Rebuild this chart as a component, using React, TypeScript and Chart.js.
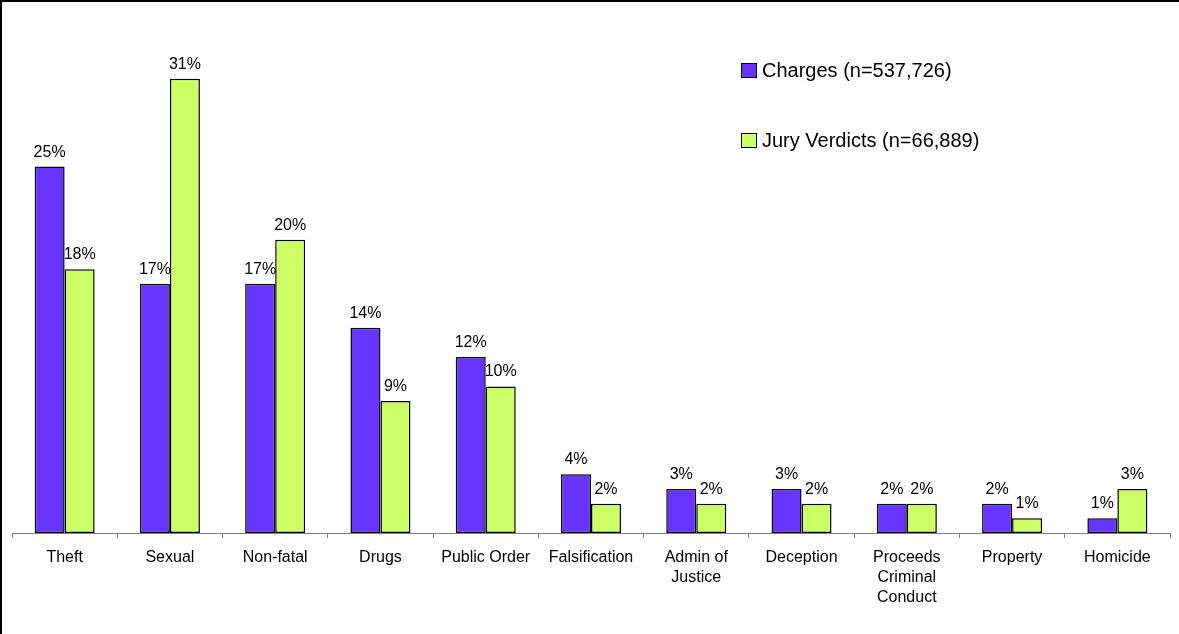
import React, { useEffect, useRef } from "react";
import { Chart, registerables } from "chart.js";

Chart.register(...registerables);

const categories: (string | string[])[] = [
  "Theft",
  "Sexual",
  "Non-fatal",
  "Drugs",
  "Public Order",
  "Falsification",
  ["Admin of", "Justice"],
  "Deception",
  ["Proceeds", "Criminal", "Conduct"],
  "Property",
  "Homicide",
];
const chargesLabel = "Charges (n=537,726)";
const juryLabel = "Jury Verdicts (n=66,889)";
const charges = [25, 17, 17, 14, 12, 4, 3, 3, 2, 2, 1];
const jury = [18, 31, 20, 9, 10, 2, 2, 2, 2, 1, 3];

const FONT = "'Liberation Sans', Arial, sans-serif";

const decorPlugin = {
  id: "decor",
  beforeDraw(chart: any) {
    const ctx = chart.ctx;
    ctx.save();
    ctx.fillStyle = "#ffffff";
    ctx.fillRect(0, 0, chart.width, chart.height);
    ctx.restore();
  },
  afterDatasetsDraw(chart: any) {
    const ctx = chart.ctx;
    ctx.save();
    ctx.font = `16px ${FONT}`;
    ctx.fillStyle = "#000";
    ctx.textAlign = "center";
    ctx.textBaseline = "alphabetic";
    chart.data.datasets.forEach((ds: any, di: number) => {
      const meta = chart.getDatasetMeta(di);
      meta.data.forEach((el: any, i: number) => {
        ctx.fillText(ds.data[i] + "%", el.x, el.y - 10);
      });
    });
    ctx.restore();
  },
  afterDraw(chart: any) {
    const ctx = chart.ctx;
    ctx.save();
    // outer frame (top and left)
    ctx.fillStyle = "#000";
    ctx.fillRect(0, 0, chart.width, 2);
    ctx.fillRect(0, 0, 2, chart.height);
    // legend
    const ys = [63, 133];
    ctx.font = `20px ${FONT}`;
    ctx.textAlign = "left";
    ctx.textBaseline = "middle";
    chart.data.datasets.forEach((ds: any, di: number) => {
      const y = ys[di];
      ctx.fillStyle = ds.backgroundColor;
      ctx.fillRect(741, y, 16, 15);
      ctx.strokeStyle = "#000";
      ctx.lineWidth = 1;
      ctx.strokeRect(741.5, y + 0.5, 15, 14);
      ctx.fillStyle = "#000";
      ctx.fillText(ds.label, 762, y + 8.5);
    });
    ctx.restore();
  },
};

export default function App() {
  const ref = useRef<HTMLCanvasElement | null>(null);
  useEffect(() => {
    document.body.style.margin = "0";
    const canvas = ref.current;
    if (!canvas) return;
    const chart = new Chart(canvas, {
      type: "bar",
      data: {
        labels: categories,
        datasets: [
          {
            label: chargesLabel,
            data: charges,
            backgroundColor: "#6633FF",
            borderColor: "#000000",
            borderWidth: 1.5,
            borderSkipped: false,
          },
          {
            label: juryLabel,
            data: jury,
            backgroundColor: "#CCFF66",
            borderColor: "#000000",
            borderWidth: 1.5,
            borderSkipped: false,
          },
        ],
      },
      options: {
        responsive: false,
        animation: false,
        layout: { padding: { left: 12, right: 9, top: 20, bottom: 0 } },
        datasets: {
          bar: { categoryPercentage: 0.57, barPercentage: 1.0 },
        },
        plugins: {
          legend: { display: false },
          tooltip: { enabled: false },
        },
        scales: {
          x: {
            grid: {
              drawOnChartArea: false,
              drawTicks: true,
              tickLength: 5,
              color: "#808080",
              offset: true,
            },
            border: { display: true, color: "#808080", width: 1 },
            ticks: {
              color: "#000",
              font: { family: FONT, size: 16, lineHeight: 1.25 },
              padding: 10,
              maxRotation: 0,
              autoSkip: false,
            },
            afterFit(scale: any) {
              scale.height = 101;
            },
          },
          y: {
            display: false,
            min: 0,
            max: 35,
          },
        },
      },
      plugins: [decorPlugin],
    });
    return () => chart.destroy();
  }, []);
  return (
    <canvas
      ref={ref}
      width={1179}
      height={634}
      style={{ display: "block", width: 1179, height: 634 }}
    />
  );
}
